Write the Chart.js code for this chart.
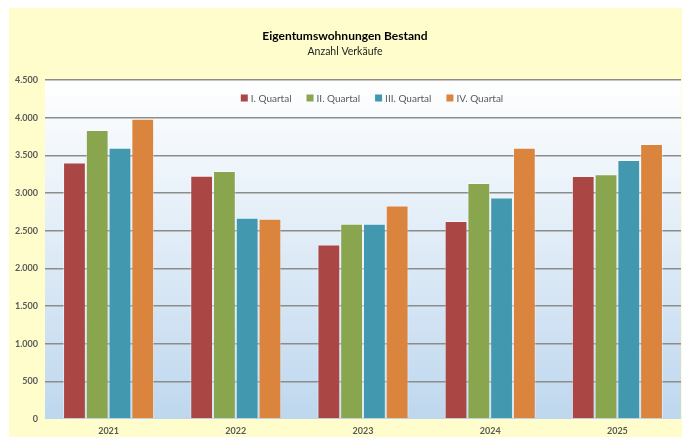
<!DOCTYPE html>
<html>
<head>
<meta charset="utf-8">
<script src="https://cdn.jsdelivr.net/npm/chart.js@4/dist/chart.umd.min.js"></script>
<style>
  html, body { margin: 0; padding: 0; background: #ffffff; }
  #wrap { width: 685px; height: 438px; }
</style>
</head>
<body>
<div id="wrap"><canvas id="bar"></canvas></div>
<script>
const years = ['2021', '2022', '2023', '2024', '2025'];
const quartal1 = [3405, 3228, 2315, 2628, 3225];
const quartal2 = [3835, 3292, 2593, 3133, 3248];
const quartal3 = [3600, 2673, 2593, 2940, 3438];
const quartal4 = [3985, 2658, 2835, 3600, 3650];
const seriesNames = ['I. Quartal', 'II. Quartal', 'III. Quartal', 'IV. Quartal'];
const seriesColors = ['#AA4643', '#89A54E', '#4198AF', '#DB843D'];

const fmt = (v) => String(v).replace(/\B(?=(\d{3})+(?!\d))/g, '.');

// yellow frame + gradient plot background
const backdrop = {
  id: 'backdrop',
  beforeDraw(chart) {
    const ctx = chart.ctx;
    const a = chart.chartArea;
    ctx.save();
    ctx.fillStyle = '#FFFDCC';
    ctx.fillRect(9, 8, 673, 429);
    const g = ctx.createLinearGradient(0, a.top, 0, a.bottom);
    g.addColorStop(0, '#FFFFFF');
    g.addColorStop(1, '#BED7EE');
    ctx.fillStyle = g;
    ctx.fillRect(a.left, a.top, a.right - a.left, a.bottom - a.top);
    ctx.restore();
  }
};

// legend drawn inside the plot area
const innerLegend = {
  id: 'innerLegend',
  afterDraw(chart) {
    const ctx = chart.ctx;
    const a = chart.chartArea;
    ctx.save();
    ctx.font = '10px Lato';
    ctx.textBaseline = 'middle';
    const box = 7, gap = 3, space = 15;
    const items = chart.data.datasets.map(d => ({ text: d.label, color: d.backgroundColor }));
    let total = 0;
    items.forEach((it, i) => {
      it.w = box + gap + ctx.measureText(it.text).width;
      total += it.w + (i ? space : 0);
    });
    let x = (a.left + a.right) / 2 + 9 - total / 2;
    const y = 98;
    items.forEach(it => {
      ctx.fillStyle = it.color;
      ctx.fillRect(x, y - box / 2, box, box);
      ctx.fillStyle = '#595959';
      ctx.fillText(it.text, x + box + gap, y + 0.5);
      x += it.w + space;
    });
    ctx.restore();
  }
};

const bar = document.getElementById('bar');

new Chart(bar, {
  type: 'bar',
  data: {
    labels: years,
    datasets: [quartal1, quartal2, quartal3, quartal4].map((vals, i) => ({
      label: seriesNames[i],
      data: vals,
      backgroundColor: seriesColors[i],
      borderColor: 'rgba(255,255,255,0.45)',
      borderWidth: 1,
      categoryPercentage: 0.716,
      barPercentage: 1.0
    }))
  },
  options: {
    responsive: true,
    maintainAspectRatio: false,
    animation: false,
    layout: { padding: { top: 8, left: 9, right: 4, bottom: 1 } },
    plugins: {
      legend: { display: false },
      tooltip: { enabled: false },
      title: {
        display: true,
        text: 'Eigentumswohnungen Bestand',
        color: '#000000',
        font: { family: 'Lato', size: 12, weight: 'bold' },
        padding: { top: 21, bottom: 2 }
      },
      subtitle: {
        display: true,
        text: 'Anzahl Verkäufe',
        color: '#222222',
        font: { family: 'Lato', size: 10.5 },
        padding: { top: 0, bottom: 22 }
      }
    },
    scales: {
      x: {
        grid: { display: false, drawTicks: false },
        border: { display: false },
        afterFit(scale) { scale.height = 18; },
        ticks: {
          color: '#595959',
          padding: 7,
          font: { family: 'Lato', size: 9, weight: 'bold' }
        }
      },
      y: {
        min: 0,
        max: 4500,
        afterFit(scale) { scale.width = 36; },
        border: { display: false },
        grid: {
          drawTicks: false,
          lineWidth: 1.5,
          color: (c) => (c.tick && c.tick.value === 0) ? 'rgba(0,0,0,0)' : '#8C8C8C'
        },
        ticks: {
          stepSize: 500,
          padding: 7,
          color: '#595959',
          font: { family: 'Lato', size: 9, weight: 'bold' },
          callback: (v) => fmt(v)
        }
      }
    }
  },
  plugins: [backdrop, innerLegend]
});
</script>
</body>
</html>
